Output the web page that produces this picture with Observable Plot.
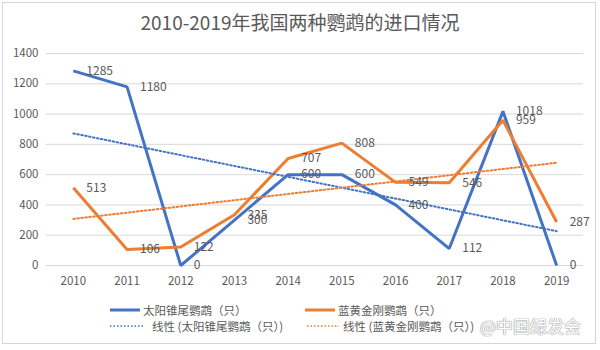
<!DOCTYPE html>
<html>
<head>
<meta charset="utf-8">
<script src="https://cdn.jsdelivr.net/npm/d3@7"></script>
<script src="https://cdn.jsdelivr.net/npm/@observablehq/plot@0.6"></script>
<style>
  html, body { margin: 0; padding: 0; background: #fff; }
  #wrap { position: relative; width: 600px; height: 350px; overflow: hidden;
          font-family: "Noto Sans CJK SC", "Noto Sans", sans-serif; color: #595959; }
  #frame { position: absolute; left: 2px; top: 2px; width: 594px; height: 342px;
           border: 1px solid #d6d6d6; box-sizing: border-box; }
  #title { position: absolute; left: 0; top: 9px; width: 600px; text-align: center;
           font-size: 19px; line-height: 26px; color: #595959; }
  #chart { position: absolute; left: 0; top: 40px; }
  .leg { position: absolute; font-size: 11.5px; line-height: 16px; color: #595959; white-space: nowrap; }
  .sw { position: absolute; }
  #wm { position: absolute; left: 476px; top: 316px; font-size: 17px; line-height: 20px;
        color: #fff; background: rgba(255,255,255,0.85);
        text-shadow: 0 0 1px #999, 0 0 1px #999, 0 0 1px #999; padding-left: 4px; }
</style>
</head>
<body>
<div id="wrap">
  <div id="frame"></div>
  <div id="title"></div>
  <div id="chart"></div>
  <div id="legend"></div>
  <div id="wm">@中国绿发会</div>
</div>
<script>
const titleText = "2010-2019年我国两种鹦鹉的进口情况";
const years = [2010, 2011, 2012, 2013, 2014, 2015, 2016, 2017, 2018, 2019];
const conure = [1285, 1180, 0, 300, 600, 600, 400, 112, 1018, 0];
const macaw = [513, 106, 122, 335, 707, 808, 549, 546, 959, 287];
const yTicks = [0, 200, 400, 600, 800, 1000, 1200, 1400];
const seriesNames = ["太阳锥尾鹦鹉（只）", "蓝黄金刚鹦鹉（只）"];
const trendNames = ["线性 (太阳锥尾鹦鹉（只）)", "线性 (蓝黄金刚鹦鹉（只）)"];
const colors = ["#4472C4", "#ED7D31"];

document.getElementById("title").textContent = titleText;

const rows = [];
years.forEach((yr, i) => rows.push({year: yr, value: conure[i], series: seriesNames[0]}));
years.forEach((yr, i) => rows.push({year: yr, value: macaw[i], series: seriesNames[1]}));

const chart = Plot.plot({
  width: 600,
  height: 255,
  marginLeft: 46,
  marginRight: 17,
  marginTop: 13,
  marginBottom: 30,
  style: {fontFamily: "'Noto Sans CJK SC', 'Noto Sans', sans-serif", fontSize: "11.5px", color: "#595959", background: "transparent"},
  x: {type: "linear", domain: [2009.5, 2019.5]},
  y: {domain: [0, 1400]},
  color: {domain: seriesNames, range: colors},
  marks: [
    Plot.gridY(yTicks, {stroke: "#d9d9d9", strokeOpacity: 1, strokeWidth: 1}),
    Plot.axisY(yTicks, {tickSize: 0, tickPadding: 8, tickFormat: d => String(d), label: null}),
    Plot.axisX(years, {tickSize: 0, tickPadding: 11, tickFormat: d => String(d), label: null}),
    Plot.lineY(rows, {x: "year", y: "value", z: "series", stroke: "series", strokeWidth: 3, strokeLinejoin: "miter", strokeLinecap: "butt"}),
    Plot.linearRegressionY(rows, {x: "year", y: "value", z: "series", stroke: "series", ci: 0, strokeWidth: 2, strokeDasharray: "1.6,2.4"}),
    Plot.text(rows, {x: "year", y: "value", text: d => String(d.value), textAnchor: "start", dx: 13, fill: "#595959", fontSize: 12})
  ]
});
document.getElementById("chart").appendChild(chart);

// legend
const legend = document.getElementById("legend");
const items = [
  {label: seriesNames[0], color: colors[0], dash: null, x1: 110, x2: 140, tx: 143, y: 310},
  {label: seriesNames[1], color: colors[1], dash: null, x1: 305, x2: 335, tx: 338, y: 310},
  {label: trendNames[0], color: colors[0], dash: "1.5,2", x1: 110, x2: 145, tx: 152, y: 326},
  {label: trendNames[1], color: colors[1], dash: "1.5,2", x1: 307, x2: 339, tx: 343, y: 326}
];
items.forEach(it => {
  const sw = d3.create("svg").attr("class", "sw")
    .attr("width", it.x2 - it.x1).attr("height", 6)
    .style("left", it.x1 + "px").style("top", (it.y - 3) + "px");
  sw.append("line").attr("x1", 0).attr("x2", it.x2 - it.x1).attr("y1", 3).attr("y2", 3)
    .attr("stroke", it.color).attr("stroke-width", it.dash ? 1.5 : 3)
    .attr("stroke-dasharray", it.dash);
  legend.appendChild(sw.node());
  const t = document.createElement("div");
  t.className = "leg";
  t.style.left = it.tx + "px";
  t.style.top = (it.y - 8) + "px";
  t.textContent = it.label;
  legend.appendChild(t);
});
</script>
</body>
</html>
